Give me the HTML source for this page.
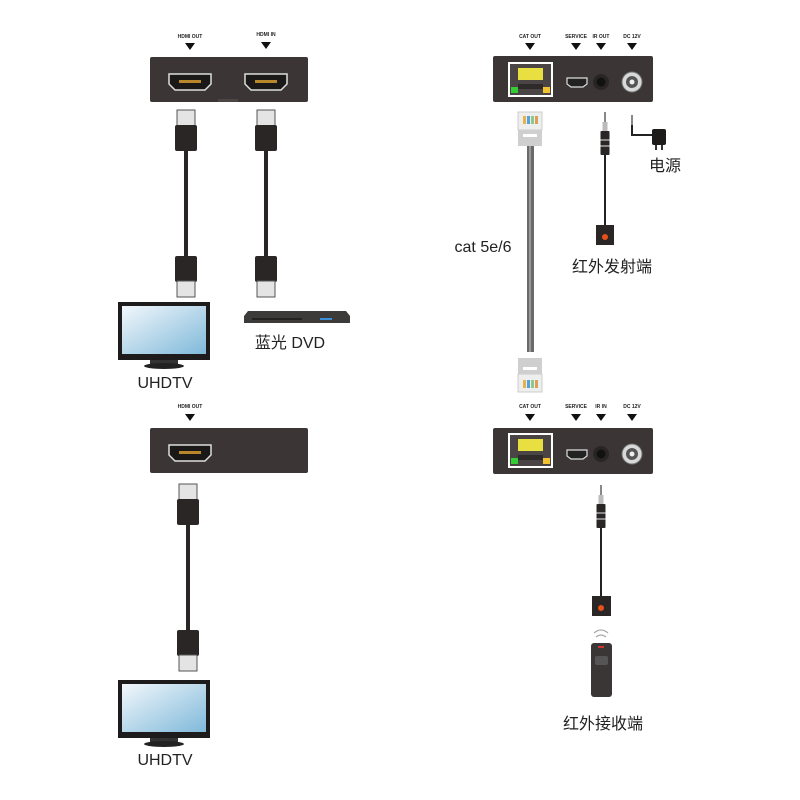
<!DOCTYPE html>
<html><head><meta charset="utf-8"><style>
html,body{margin:0;padding:0;background:#fff;width:800px;height:800px;overflow:hidden}
svg text{font-family:"Liberation Sans","Noto Sans CJK SC",sans-serif;fill:#222}
.lab{font-size:5px;font-weight:bold;text-anchor:middle}
</style></head><body>
<svg width="800" height="800" viewBox="0 0 800 800" xmlns="http://www.w3.org/2000/svg">
<defs>
<g id="hdmiport"><path d="M-21,-7 H21 V3 L15,9 H-15 L-21,3 Z" fill="#1b1818" stroke="#ddd" stroke-width="1.5"/><rect x="-11" y="-1" width="22" height="3" fill="#b8862b"/></g>
<g id="hdmicab">
<rect x="-9" y="0" width="18" height="16" fill="#e4e4e4" stroke="#555" stroke-width="1"/>
<rect x="-11" y="15" width="22" height="26" rx="2" fill="#2a2626"/>
<rect x="-2" y="40" width="4" height="106" fill="#2a2626"/>
<rect x="-11" y="146" width="22" height="26" rx="2" fill="#2a2626"/>
<rect x="-9" y="171" width="18" height="16" fill="#e4e4e4" stroke="#555" stroke-width="1"/>
</g>
<g id="tv">
<rect x="0" y="0" width="92" height="58" fill="#1d1b1b"/>
<rect x="4" y="4" width="84" height="48" fill="url(#scr)"/>
<rect x="32" y="58" width="28" height="4" fill="#333"/>
<ellipse cx="46" cy="64" rx="20" ry="3" fill="#222"/>
</g>
<linearGradient id="scr" x1="0" y1="0" x2="1" y2="1"><stop offset="0" stop-color="#f2f7fb"/><stop offset="1" stop-color="#7fb9da"/></linearGradient>
<g id="rj45port"><rect x="0" y="0" width="45" height="35" fill="#fff"/><rect x="2" y="2" width="41" height="31" fill="#4a4544"/><rect x="10" y="6" width="25" height="12" fill="#e8e040"/><rect x="3" y="25" width="7" height="6" fill="#3c3"/><rect x="35" y="25" width="7" height="6" fill="#f2c230"/><rect x="10" y="22" width="25" height="5" fill="#2d2a29"/></g>
<g id="plug"><rect x="-12" y="0" width="24" height="18" fill="#eee" stroke="#ccc"/><rect x="-7" y="4" width="3" height="8" fill="#e5b34a"/><rect x="-3" y="4" width="3" height="8" fill="#5aa0d8"/><rect x="1" y="4" width="3" height="8" fill="#8c8"/><rect x="5" y="4" width="3" height="8" fill="#d8a060"/><rect x="-12" y="18" width="24" height="16" fill="#cfcfcf"/><rect x="-7" y="22" width="14" height="3" fill="#fff"/></g>
<g id="usbdc"><path d="M-10,-4 H10 V2 L6,5 H-6 L-10,2 Z" fill="#222" stroke="#ddd" stroke-width="1.2"/><circle cx="24" cy="0" r="8" fill="#2a2525"/><circle cx="24" cy="0" r="4.5" fill="#111"/><circle cx="55" cy="0" r="10" fill="#d9d9d9" stroke="#777"/><circle cx="55" cy="0" r="6" fill="#555"/><circle cx="55" cy="0" r="2.5" fill="#eee"/></g>
<g id="jack"><rect x="-1" y="0" width="2" height="10" fill="#888"/><rect x="-2.5" y="10" width="5" height="9" fill="#bbb"/><rect x="-4.5" y="19" width="9" height="24" rx="1" fill="#2a2626"/><rect x="-4.5" y="27" width="9" height="2" fill="#888"/><rect x="-4.5" y="33" width="9" height="2" fill="#888"/></g>
<path id="tri" d="M-5,0 H5 L0,7 Z" fill="#111"/>
</defs>

<!-- top-left box -->
<text class="lab" x="190" y="38">HDMI OUT</text><use href="#tri" x="190" y="43"/>
<text class="lab" x="266" y="36">HDMI IN</text><use href="#tri" x="266" y="42"/>
<rect x="150" y="57" width="158" height="45" rx="2" fill="#3b3635"/>
<rect x="218" y="99" width="20" height="3" fill="#4b4544"/>
<use href="#hdmiport" x="190" y="81"/><use href="#hdmiport" x="266" y="81"/>
<use href="#hdmicab" x="186" y="110"/><use href="#hdmicab" x="266" y="110"/>
<use href="#tv" x="118" y="302"/>
<text x="165" y="388" font-size="16" text-anchor="middle">UHDTV</text>
<path d="M248,311 H346 L350,316 V323 H244 V316 Z" fill="#3d3a3a"/><rect x="252" y="318" width="50" height="2" fill="#222"/><rect x="320" y="318" width="12" height="2" fill="#3a8fd8"/>
<text x="290" y="348" font-size="16" text-anchor="middle">蓝光 DVD</text>

<!-- bottom-left -->
<text class="lab" x="190" y="408">HDMI OUT</text><use href="#tri" x="190" y="414"/>
<rect x="150" y="428" width="158" height="45" rx="2" fill="#3b3635"/>
<use href="#hdmiport" x="190" y="452"/>
<use href="#hdmicab" x="188" y="484"/>
<use href="#tv" x="118" y="680"/>
<text x="165" y="765" font-size="16" text-anchor="middle">UHDTV</text>

<!-- top-right -->
<text class="lab" x="530" y="38">CAT OUT</text><use href="#tri" x="530" y="43"/>
<text class="lab" x="576" y="38">SERVICE</text><use href="#tri" x="576" y="43"/>
<text class="lab" x="601" y="38">IR OUT</text><use href="#tri" x="601" y="43"/>
<text class="lab" x="632" y="38">DC 12V</text><use href="#tri" x="632" y="43"/>
<rect x="493" y="56" width="160" height="46" rx="2" fill="#3b3635"/>
<use href="#rj45port" x="508" y="62"/>
<use href="#usbdc" x="577" y="82"/>
<use href="#plug" x="530" y="112"/>
<rect x="527" y="146" width="7" height="206" fill="#6a6a6a"/><rect x="529" y="146" width="2" height="206" fill="#999"/>
<use href="#plug" transform="translate(530,392) scale(1,-1)"/>
<text x="483" y="252" font-size="16" text-anchor="middle">cat 5e/6</text>
<use href="#jack" x="605" y="112"/>
<rect x="604" y="155" width="2" height="70" fill="#222"/>
<rect x="596" y="225" width="18" height="20" fill="#2a2626"/><circle cx="605" cy="237" r="3" fill="#e8501a"/>
<text x="612" y="272" font-size="16" text-anchor="middle">红外发射端</text>
<rect x="631" y="115" width="2" height="10" fill="#888"/>
<path d="M632,125 V135 H652" stroke="#222" stroke-width="2" fill="none"/>
<rect x="652" y="129" width="14" height="16" rx="2" fill="#1e1b1b"/><rect x="655" y="145" width="2" height="5" fill="#333"/><rect x="661" y="145" width="2" height="5" fill="#333"/>
<text x="665" y="171" font-size="16" text-anchor="middle">电源</text>

<!-- bottom-right -->
<text class="lab" x="530" y="408">CAT OUT</text><use href="#tri" x="530" y="414"/>
<text class="lab" x="576" y="408">SERVICE</text><use href="#tri" x="576" y="414"/>
<text class="lab" x="601" y="408">IR IN</text><use href="#tri" x="601" y="414"/>
<text class="lab" x="632" y="408">DC 12V</text><use href="#tri" x="632" y="414"/>
<rect x="493" y="428" width="160" height="46" rx="2" fill="#3b3635"/>
<use href="#rj45port" x="508" y="433"/>
<use href="#usbdc" x="577" y="454"/>
<use href="#jack" x="601" y="485"/>
<rect x="600" y="528" width="2" height="68" fill="#222"/>
<rect x="592" y="596" width="19" height="20" fill="#2a2626"/><circle cx="601" cy="608" r="3" fill="#e8501a"/>
<path d="M594,633 Q601,627 608,633 M596,637 Q601,633 606,637" stroke="#aaa" stroke-width="1.2" fill="none"/>
<rect x="591" y="643" width="21" height="54" rx="3" fill="#3a3636"/>
<rect x="598" y="646" width="6" height="2" fill="#c33"/>
<rect x="595" y="656" width="13" height="9" rx="2" fill="#555"/>
<text x="603" y="729" font-size="16" text-anchor="middle">红外接收端</text>
</svg>
</body></html>
